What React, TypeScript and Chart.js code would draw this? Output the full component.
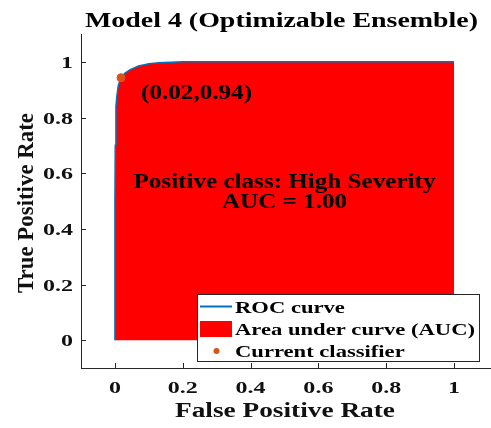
import React, { useEffect, useRef } from "react";
import { Chart, registerables } from "chart.js";

Chart.register(...registerables);

const fpr = [0, 0, 0.001, 0.003, 0.006, 0.01, 0.018, 0.03, 0.045, 0.07, 0.1, 0.13, 0.2, 0.4, 0.7, 1];
const tpr = [0, 0.5, 0.7, 0.84, 0.88, 0.915, 0.944, 0.96, 0.972, 0.985, 0.993, 0.997, 1, 1, 1, 1];
const currentPoint = { x: 0.018, y: 0.943 };
const tickValues = [0, 0.2, 0.4, 0.6, 0.8, 1];
const tickLabels = ["0", "0.2", "0.4", "0.6", "0.8", "1"];
const legendLabels = ["ROC curve", "Area under curve (AUC)", "Current classifier"];
const titleText = "Model 4 (Optimizable Ensemble)";
const xTitle = "False Positive Rate";
const yTitle = "True Positive Rate";
const pointLabel = "(0.02,0.94)";
const infoLines = ["Positive class: High Severity", "AUC = 1.00"];

const SERIF = '"Liberation Serif", "Times New Roman", serif';
const BLUE = "#0072BD";
const ORANGE = "#D95319";
const RED = "#FF0000";
const AX = "#262626";
const TXT = "#111";

function stretchText(
  ctx: CanvasRenderingContext2D,
  text: string,
  x: number,
  y: number,
  size: number,
  align: CanvasTextAlign,
  opts: { width?: number; scale?: number }
) {
  ctx.save();
  ctx.font = `bold ${size}px ${SERIF}`;
  const w = ctx.measureText(text).width;
  const s = opts.width ? opts.width / w : opts.scale ?? 1;
  ctx.translate(x, y);
  ctx.scale(s, 1);
  ctx.textAlign = align;
  ctx.textBaseline = "alphabetic";
  ctx.fillText(text, 0, 0);
  ctx.restore();
}

const overlay = {
  id: "overlay",
  afterDatasetsDraw(chart: any) {
    const { ctx, chartArea, scales } = chart;
    const xs = scales.x;
    const ys = scales.y;
    ctx.save();
    // inward ticks
    ctx.strokeStyle = AX;
    ctx.lineWidth = 1;
    ctx.beginPath();
    tickValues.forEach((v) => {
      const px = Math.round(xs.getPixelForValue(v)) + 0.5;
      ctx.moveTo(px, chartArea.bottom);
      ctx.lineTo(px, chartArea.bottom - 5);
      const py = Math.round(ys.getPixelForValue(v)) + 0.5;
      ctx.moveTo(chartArea.left, py);
      ctx.lineTo(chartArea.left + 5, py);
    });
    ctx.stroke();

    // tick labels
    ctx.fillStyle = TXT;
    tickValues.forEach((v, i) => {
      stretchText(ctx, tickLabels[i], xs.getPixelForValue(v), chartArea.bottom + 25, 17.3, "center", { scale: 1.39 });
      stretchText(ctx, tickLabels[i], chartArea.left - 8, ys.getPixelForValue(v) + 6.3, 17.3, "right", { scale: 1.39 });
    });

    // axis titles
    stretchText(ctx, xTitle, 285, chartArea.bottom + 48.7, 20.7, "center", { width: 220 });
    ctx.save();
    ctx.font = `bold 22px ${SERIF}`;
    const yw = ctx.measureText(yTitle).width;
    ctx.translate(chartArea.left - 48.5, (chartArea.top + chartArea.bottom) / 2 + 2);
    ctx.rotate(-Math.PI / 2);
    ctx.scale(180 / yw, 1.06);
    ctx.textAlign = "center";
    ctx.textBaseline = "alphabetic";
    ctx.fillText(yTitle, 0, 0);
    ctx.restore();

    // annotation text
    ctx.fillStyle = "#000";
    stretchText(ctx, pointLabel, xs.getPixelForValue(0.077), ys.getPixelForValue(0.868), 21, "left", { width: 111 });
    stretchText(ctx, infoLines[0], xs.getPixelForValue(0.5), ys.getPixelForValue(0.548), 20, "center", { width: 302 });
    stretchText(ctx, infoLines[1], xs.getPixelForValue(0.5), ys.getPixelForValue(0.476), 20, "center", { width: 125 });

    // legend box
    const bx = chartArea.left + 116;
    const by = chartArea.top + 260;
    const bw = 282;
    const bh = 67;
    ctx.fillStyle = "#fff";
    ctx.fillRect(bx, by, bw, bh);
    ctx.strokeStyle = AX;
    ctx.lineWidth = 1;
    ctx.strokeRect(bx + 0.5, by + 0.5, bw, bh);

    const rows = [by + 12.5, by + 35, by + 57];
    ctx.strokeStyle = BLUE;
    ctx.lineWidth = 2;
    ctx.beginPath();
    ctx.moveTo(bx + 3, rows[0]);
    ctx.lineTo(bx + 35, rows[0]);
    ctx.stroke();
    ctx.fillStyle = RED;
    ctx.fillRect(bx + 3, rows[1] - 8, 32, 16);
    ctx.fillStyle = ORANGE;
    ctx.beginPath();
    ctx.arc(bx + 19.5, rows[2], 3, 0, Math.PI * 2);
    ctx.fill();

    ctx.fillStyle = "#000";
    ctx.font = `bold 17.5px ${SERIF}`;
    const lscale = 240 / ctx.measureText(legendLabels[1]).width;
    legendLabels.forEach((t, i) => stretchText(ctx, t, bx + 38, rows[i] + 6, 17.5, "left", { scale: lscale }));

    // title
    stretchText(ctx, titleText, 281.5, 26.7, 20.2, "center", { width: 393 });
    ctx.restore();
  },
};

export default function App() {
  const ref = useRef<HTMLCanvasElement>(null);
  useEffect(() => {
    document.body.style.margin = "0";
    const canvas = ref.current!;
    const chart = new Chart(canvas, {
      type: "scatter",
      data: {
        datasets: [
          {
            label: legendLabels[1],
            data: fpr.map((x, i) => ({ x, y: tpr[i] })),
            showLine: true,
            borderWidth: 0,
            borderColor: "rgba(0,0,0,0)",
            backgroundColor: RED,
            fill: "origin",
            pointRadius: 0,
            order: 3,
          },
          {
            label: legendLabels[0],
            data: fpr.map((x, i) => ({ x, y: tpr[i] })),
            showLine: true,
            borderWidth: 1.5,
            borderColor: BLUE,
            fill: false,
            pointRadius: 0,
            order: 2,
          },
          {
            label: legendLabels[2],
            data: [currentPoint],
            pointRadius: 4,
            pointBackgroundColor: ORANGE,
            pointBorderColor: ORANGE,
            showLine: false,
            order: 1,
          },
        ],
      } as any,
      options: {
        animation: false,
        responsive: false,
        maintainAspectRatio: false,
        devicePixelRatio: 1,
        layout: { autoPadding: false, padding: { top: 34, right: 0, bottom: 0, left: 0 } },
        plugins: {
          legend: { display: false },
          title: { display: false },
          tooltip: { enabled: false },
        },
        scales: {
          x: {
            type: "linear",
            min: -0.1,
            max: 1.109,
            afterFit: (s: any) => {
              s.height = 60;
            },
            afterBuildTicks: (s: any) => {
              s.ticks = tickValues.map((v) => ({ value: v }));
            },
            grid: { display: true, drawOnChartArea: false, drawTicks: false },
            border: { display: true, color: AX, width: 1 },
            ticks: { display: false },
            title: { display: false },
          },
          y: {
            type: "linear",
            min: -0.1,
            max: 1.1,
            afterFit: (s: any) => {
              s.width = 81;
            },
            afterBuildTicks: (s: any) => {
              s.ticks = tickValues.map((v) => ({ value: v }));
            },
            grid: { display: true, drawOnChartArea: false, drawTicks: false },
            border: { display: true, color: AX, width: 1 },
            ticks: { display: false },
            title: { display: false },
          },
        },
      } as any,
      plugins: [overlay],
    });
    return () => chart.destroy();
  }, []);
  return (
    <div style={{ position: "absolute", left: 0, top: 0, width: 491, height: 428, background: "#fff" }}>
      <canvas ref={ref} width={491} height={428} />
    </div>
  );
}
